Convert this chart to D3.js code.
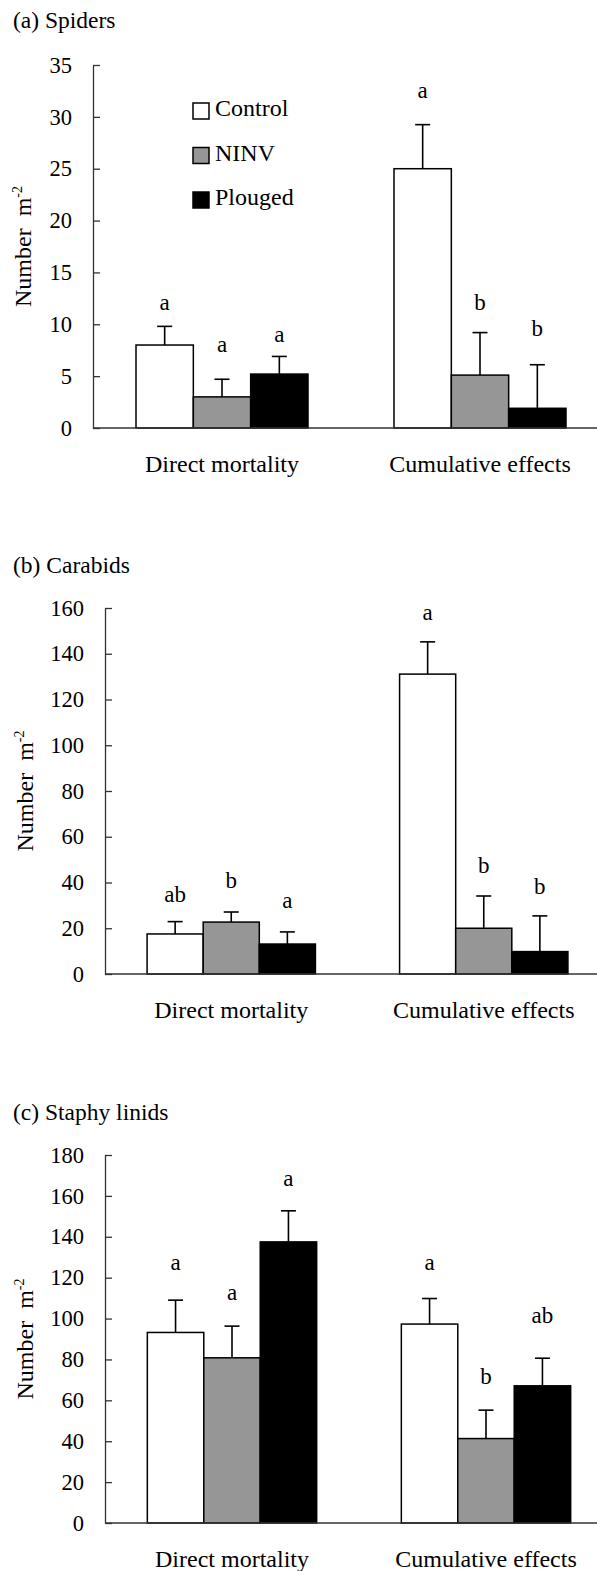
<!DOCTYPE html>
<html><head><meta charset="utf-8">
<script src="https://cdn.jsdelivr.net/npm/d3@7"></script>
<style>
html,body{margin:0;padding:0;background:#fff;}
svg{display:block;}
</style></head>
<body>
<script>
// ---------- data ----------
const treatments = ["Control", "NINV", "Plouged"];
const periods = ["Direct mortality", "Cumulative effects"];
// order within each array: Direct mortality (Control, NINV, Plouged), Cumulative effects (Control, NINV, Plouged)
const spidersMean = [8.0, 3.0, 5.2, 25.0, 5.1, 1.9];
const spidersSE = [1.8, 1.7, 1.7, 4.25, 4.1, 4.2];
const spidersLetters = ["a", "a", "a", "a", "b", "b"];
const spidersLetterAt = [11.4, 7.3, 8.3, 31.8, 11.4, 8.9];
const spidersTicks = [0, 5, 10, 15, 20, 25, 30, 35];

const carabidsMean = [17.5, 22.7, 13.1, 131.1, 20.0, 9.8];
const carabidsSE = [5.4, 4.4, 5.3, 14.1, 14.1, 15.6];
const carabidsLetters = ["ab", "b", "a", "a", "b", "b"];
const carabidsLetterAt = [31.6, 37.5, 28.7, 154.9, 44.3, 35.0];
const carabidsTicks = [0, 20, 40, 60, 80, 100, 120, 140, 160];

const staphMean = [93.2, 80.8, 137.5, 97.3, 41.3, 67.1];
const staphSE = [15.8, 15.5, 15.2, 12.5, 13.9, 13.5];
const staphLetters = ["a", "a", "a", "a", "b", "ab"];
const staphLetterAt = [123.6, 108.9, 164.8, 123.6, 67.9, 97.6];
const staphTicks = [0, 20, 40, 60, 80, 100, 120, 140, 160, 180];

const panelTitles = ["(a) Spiders", "(b) Carabids", "(c) Staphy linids"];
const fills = ["#ffffff", "#969696", "#000000"];

// ---------- layout ----------
const FONT = "'Liberation Serif'";
const W = 597, H = 1571;
const svg = d3.select("body").append("svg").attr("width", W).attr("height", H)
  .style("font-family", FONT);

function txt(sel) { return sel.style("font-family", FONT).attr("fill", "#000"); }

const panels = [
  {title: panelTitles[0], mean: spidersMean, se: spidersSE, letters: spidersLetters, letterAt: spidersLetterAt, ticks: spidersTicks,
   ax: 93, top: 65, bottom: 428, plotW: 516, titleY: 28, ylabX: 31, legend: true},
  {title: panelTitles[1], mean: carabidsMean, se: carabidsSE, letters: carabidsLetters, letterAt: carabidsLetterAt, ticks: carabidsTicks,
   ax: 105, top: 608, bottom: 974, plotW: 505, titleY: 573, ylabX: 33, legend: false},
  {title: panelTitles[2], mean: staphMean, se: staphSE, letters: staphLetters, letterAt: staphLetterAt, ticks: staphTicks,
   ax: 105, top: 1155, bottom: 1523, plotW: 508, titleY: 1120, ylabX: 33, legend: false}
];

panels.forEach(p => {
  const g = svg.append("g");
  const tmax = p.ticks[p.ticks.length - 1];
  const y = d3.scaleLinear().domain([0, tmax]).range([p.bottom, p.top]);
  const x0 = d3.scaleBand().domain(periods).range([p.ax, p.ax + p.plotW]).padding(0);
  const bw = x0.bandwidth();
  const x1 = d3.scaleBand().domain(treatments).range([bw / 6, bw * 5 / 6]).padding(0);

  // title
  txt(g.append("text").attr("x", 13).attr("y", p.titleY).attr("font-size", 23.5).text(p.title));

  // y axis
  const yAxis = d3.axisLeft(y).tickValues(p.ticks).tickSizeInner(-7).tickSizeOuter(0).tickPadding(21);
  const ya = g.append("g").attr("transform", `translate(${p.ax},0)`).call(yAxis);
  ya.attr("font-family", null).attr("font-size", null);
  ya.select(".domain").attr("stroke", "#333").attr("stroke-width", 1.3);
  ya.selectAll(".tick line").attr("stroke", "#333").attr("stroke-width", 1.3);
  txt(ya.selectAll(".tick text").attr("font-size", 22.5));

  // y label
  const ymid = (p.top + p.bottom) / 2;
  const yl = txt(g.append("text").attr("transform", `translate(${p.ylabX},${ymid}) rotate(-90)`)
    .attr("text-anchor", "middle").attr("font-size", 24));
  yl.append("tspan").text("Number\u00a0\u00a0m");
  yl.append("tspan").attr("font-size", 14).attr("dy", -9).text("-2");

  // bars
  const data = [];
  periods.forEach((per, i) => treatments.forEach((tr, j) => {
    const k = i * 3 + j;
    data.push({per, tr, j, v: p.mean[k], se: p.se[k], letter: p.letters[k], la: p.letterAt[k]});
  }));

  g.append("g").selectAll("rect").data(data).join("rect")
    .attr("x", d => x0(d.per) + x1(d.tr))
    .attr("y", d => y(d.v))
    .attr("width", x1.bandwidth())
    .attr("height", d => y(0) - y(d.v))
    .attr("fill", d => fills[d.j]).attr("stroke", "#000").attr("stroke-width", 1.5);

  // error bars (upper only)
  const eb = g.append("g").attr("stroke", "#000").attr("stroke-width", 1.6);
  const cx = d => x0(d.per) + x1(d.tr) + x1.bandwidth() / 2;
  eb.selectAll("line.v").data(data).join("line").attr("class", "v")
    .attr("x1", cx).attr("x2", cx)
    .attr("y1", d => y(d.v)).attr("y2", d => y(d.v + d.se));
  eb.selectAll("line.c").data(data).join("line").attr("class", "c")
    .attr("x1", d => cx(d) - 7.5).attr("x2", d => cx(d) + 7.5)
    .attr("y1", d => y(d.v + d.se)).attr("y2", d => y(d.v + d.se));

  // letters
  txt(g.append("g").selectAll("text").data(data).join("text")
    .attr("x", cx)
    .attr("y", d => y(d.la))
    .attr("text-anchor", "middle").attr("font-size", 23)
    .text(d => d.letter));

  // x axis baseline
  g.append("line").attr("x1", p.ax).attr("x2", p.ax + p.plotW).attr("y1", y(0)).attr("y2", y(0))
    .attr("stroke", "#333").attr("stroke-width", 1.3);

  // category labels
  txt(g.append("g").selectAll("text").data(periods).join("text")
    .attr("x", d => x0(d) + bw / 2)
    .attr("y", p.bottom + 44)
    .attr("text-anchor", "middle").attr("font-size", 24)
    .text(d => d));

  // legend
  if (p.legend) {
    const lg = g.append("g").attr("transform", "translate(193,103)");
    treatments.forEach((t, i) => {
      lg.append("rect").attr("x", 0).attr("y", i * 44.5).attr("width", 16).attr("height", 16)
        .attr("fill", fills[i]).attr("stroke", "#000").attr("stroke-width", 1.5);
      txt(lg.append("text").attr("x", 22).attr("y", i * 44.5 + 13).attr("font-size", 24).text(t));
    });
  }
});
</script>
</body></html>
